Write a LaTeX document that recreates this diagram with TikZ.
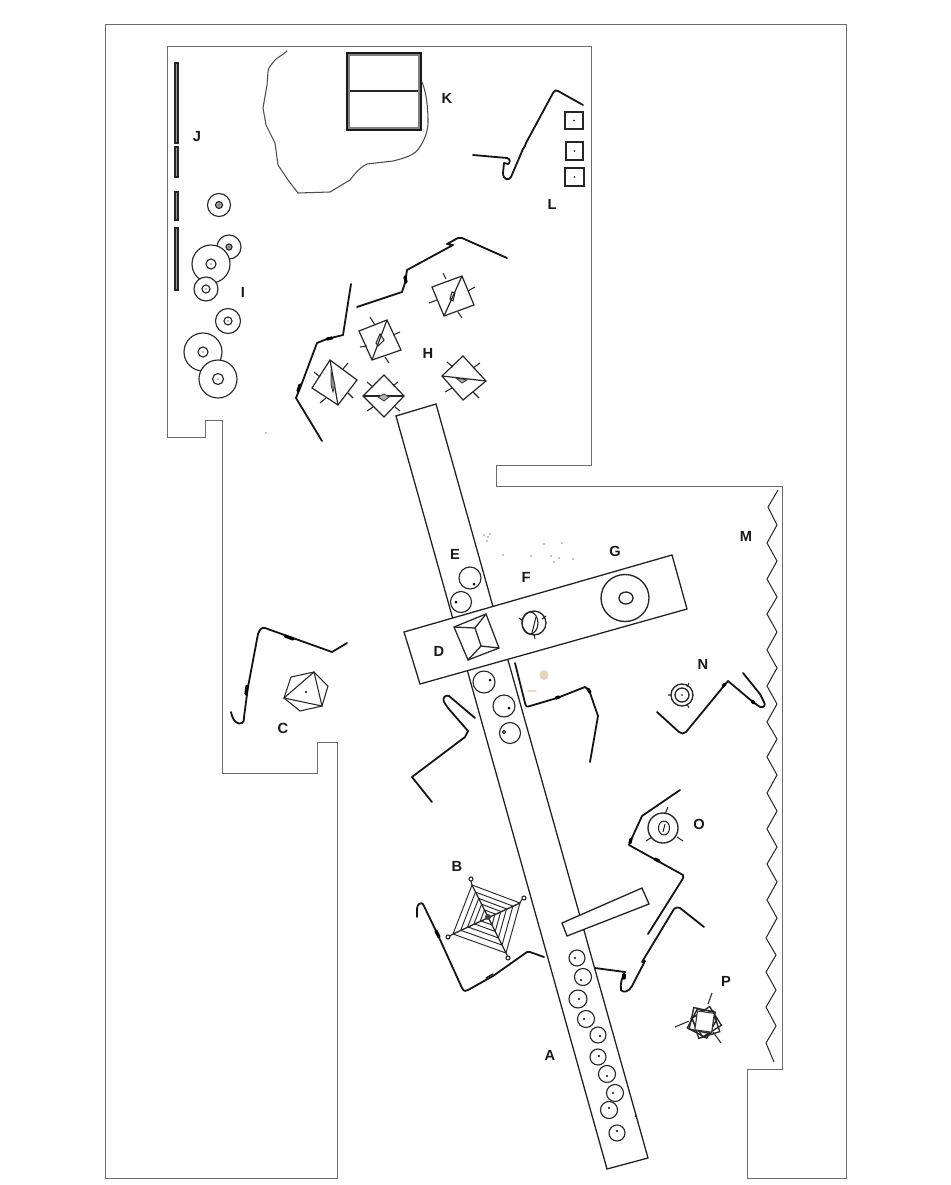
\documentclass[tikz,border=0pt]{standalone}
\usepackage{fontspec}
\setmainfont{Liberation Sans}
\usetikzlibrary{calc}
\tikzset{
  frameline/.style={draw=black!58,line width=0.65pt,line join=miter},
  barline/.style={draw=black!88,line width=0.95pt,fill=white},
  wall/.style={draw=black!92,line width=1.35pt,line join=round,line cap=round},
  wallmark/.style={draw=black,line width=2.4pt,line cap=round},
  thinline/.style={draw=black!85,line width=0.8pt},
  ring/.style={draw=black!85,line width=0.85pt,fill=white},
  kline/.style={draw=black!90,line width=1.6pt},
  letter/.style={font=\bfseries\fontsize{11}{12}\selectfont,text=black!90,inner sep=0pt},
  speck/.style={fill=black!45},
}
\begin{document}
\begin{tikzpicture}[x=0.75pt,y=-0.75pt]
\useasboundingbox (0,0) rectangle (950,1185);
% building outline
\draw[frameline] (105,24) -- (846,24) -- (846,1178) -- (747,1178) -- (747,1069) -- (782,1069) -- (782,486) -- (496,486) -- (496,465) -- (591,465) -- (591,46) -- (167,46) -- (167,437) -- (205,437) -- (205,420) -- (222,420) -- (222,773) -- (317,773) -- (317,742) -- (337,742) -- (337,1178) -- (105,1178) -- cycle;
% zigzag M
\draw[thinline,line width=0.75pt] (778,490) -- (768,507) -- (777,525) -- (767,543) -- (777,561) -- (767,579) -- (777,597) -- (767,614) -- (777,632) -- (767,650) -- (777,668) -- (767,686) -- (777,704) -- (767,722) -- (777,739) -- (767,757) -- (777,775) -- (767,793) -- (777,811) -- (767,829) -- (777,847) -- (767,864) -- (777,882) -- (767,900) -- (777,918) -- (766,938) -- (776,955) -- (766,972) -- (776,990) -- (766,1007) -- (776,1026) -- (766,1043) -- (774,1062);
% long bar and crossing bars
\draw[barline] (396,416) -- (436,404) -- (648,1158) -- (607,1169) -- cycle;
\draw[barline] (404,632) -- (672,555) -- (687,609) -- (420,684) -- cycle;
\draw[barline] (562,923) -- (642,888) -- (649,904) -- (567,936) -- cycle;
% K
\draw[thinline,line width=0.8pt,draw=black!70] (287,51) .. controls (282,56) and (276,58) .. (275,60) .. controls (271,65) and (268,68) .. (268,72) -- (267,85) -- (263,108) -- (266,125) -- (275,143) -- (278,165) -- (288,180) -- (298,193) -- (330,192) -- (350,180) .. controls (356,172) and (362,166) .. (367,164) -- (393,161) .. controls (405,158) and (415,155) .. (419,148) .. controls (425,140) and (428,130) .. (428,122) .. controls (428,105) and (426,92) .. (422,82);
\draw[kline] (347,53) -- (421,53) -- (421,130) -- (347,130) -- cycle;
\draw[thinline,line width=1pt] (347,91) -- (421,91);
\draw[thinline,draw=black!50] (349,54) -- (349,129) (419,54) -- (419,129) (348,55) -- (420,55) (348,128) -- (420,128);
% J bars
\foreach \ya/\yb in {63/143,147/177,192/220,228/290}
  \draw[draw=black!85,fill=black!40,line width=0.8pt] (175,\ya) rectangle (178,\yb);
% I circles
\foreach \cx/\cy/\ra/\rb/\ink in {219/205/11.5/3.5/35,229/247/12/3/35,211/264/19/5/0,206/289/12/4/0,228/321/12.5/4/0,203/352/19/5/0,218/379/19/5.5/0}{
  \draw[ring] (\cx,\cy) circle[radius=\ra];
  \draw[ring,fill=black!\ink] (\cx,\cy) circle[radius=\rb];
  \fill[black] (\cx,\cy) circle[radius=0.7];
}
% L
\draw[wall] (473,155) -- (507,158) .. controls (511,159) and (510,163) .. (508,164) -- (504,163) -- (503,173) .. controls (503,180) and (509,181) .. (511,177) -- (523,149) -- (525,146) -- (526,143) -- (553,93) .. controls (555,90) and (556,90) .. (558,91) -- (583,105);
\foreach \xa/\ya/\xb/\yb in {565/112/583/129,566/142/583/160,565/168/584/186}{
  \draw[thinline] (\xa,\ya) rectangle (\xb,\yb);
  \fill[black] ($(\xa,\ya)!0.5!(\xb,\yb)$) circle[radius=0.9];
}
% H walls
\draw[wall] (357,307) -- (402,292) -- (405,283) -- (407,270) -- (453,245) -- (447,244) -- (458,238) -- (462,238) -- (507,258);
\draw[wall] (351,284) -- (343,335) -- (327,339) -- (317,343) -- (302,383) -- (296,398) -- (322,441);
\draw[wallmark] (405,277) -- (406,282) (327,339) -- (332,338) (300,385) -- (298,391);
% H symbols
\draw[thinline,line width=0.9pt] (462,276) -- (474,305) -- (444,316) -- (432,287) -- cycle;
\draw[thinline,line width=0.9pt] (462,276) -- (444,316);
\draw[thinline] (452,292) -- (455,293) -- (453,301) -- (450,299) -- cycle;
\draw[thinline] (443,273) -- (446,279) (475,287) -- (468,291) (429,303) -- (437,300) (462,318) -- (458,312);
\draw[thinline,line width=0.9pt] (387,320) -- (401,350) -- (372,360) -- (359,331) -- cycle;
\draw[thinline,line width=0.9pt] (387,320) -- (372,360);
\draw[thinline] (380,334) -- (384,340) -- (378,346) -- (376,343) -- cycle;
\draw[thinline] (370,317) -- (375,325) (400,332) -- (393,335) (360,347) -- (367,346) (389,363) -- (385,357);
\draw[thinline,line width=0.9pt] (330,360) -- (357,380) -- (338,405) -- (312,388) -- cycle;
\draw[thinline,line width=0.9pt] (330,360) -- (338,405);
\draw[draw=black!80,fill=black!45,line width=0.6pt] (331,372) -- (335,385) -- (333,392) -- (331,385) -- cycle;
\draw[thinline] (348,363) -- (343,369) (314,372) -- (320,377) (353,398) -- (348,393) (320,403) -- (326,398);
\draw[thinline,line width=0.9pt] (384,375) -- (404,396) -- (384,417) -- (363,396) -- cycle;
\draw[thinline,line width=0.9pt] (363,396) -- (404,396);
\draw[draw=black!80,fill=black!30,line width=0.6pt] (378,397) -- (384,394) -- (389,397) -- (384,401) -- cycle;
\draw[thinline] (367,382) -- (373,387) (398,382) -- (393,386) (367,411) -- (373,407) (400,411) -- (395,407);
\draw[thinline,line width=0.9pt] (463,356) -- (486,381) -- (463,400) -- (442,376) -- cycle;
\draw[thinline,line width=0.9pt] (442,376) -- (486,381);
\draw[draw=black!80,fill=black!30,line width=0.6pt] (456,378) -- (462,383) -- (467,380) -- cycle;
\draw[thinline] (447,362) -- (453,367) (480,363) -- (473,368) (445,392) -- (452,388) (479,398) -- (473,392);
% C
\draw[wall] (231,712) .. controls (233,722) and (238,725) .. (242,723) .. controls (244,722) and (244,720) .. (244,717) -- (248,687) -- (258,634) .. controls (260,629) and (262,627) .. (265,628) -- (332,652) -- (347,643);
\draw[wallmark] (285,636) -- (293,639) (247,686) -- (246,694);
\draw[thinline] (314,672) -- (328,686) -- (322,706) -- (300,711) -- (284,698) -- (291,677) -- cycle;
\draw[thinline] (284,698) -- (314,672) -- (322,706) -- cycle;
\fill[black] (306,692) circle[radius=1.2];
% D
\draw[thinline,line width=0.95pt] (454,627) -- (486,614) -- (499,648) -- (468,660) -- cycle;
\draw[thinline,line width=0.95pt] (454,627) -- (475,628) -- (486,614) (475,628) -- (481,646) -- (499,648) (481,646) -- (468,660);
% E and lower circles
\foreach \cx/\cy/\ra/\dx/\dy in {470/578/11/474/584,461/602/10.5/456/602,484/682/11/490/680,504/706/11/509/708}{
  \draw[ring,fill opacity=0] (\cx,\cy) circle[radius=\ra];
  \fill[black] (\dx,\dy) circle[radius=1.5];
}
\draw[ring,fill opacity=0] (510,733) circle[radius=10.5];
\draw[thinline] (504,732) circle[radius=1.6];
% F
\draw[thinline,line width=1pt] (534,623) circle[radius=12];
\draw[thinline] (530,623) ellipse[x radius=8,y radius=11];
\draw[thinline] (536,617) -- (532,633) (519,618) -- (523,621) (546,616) -- (542,619) (535,639) -- (534,634);
% G
\draw[thinline,line width=1pt] (625,598) ellipse[x radius=24,y radius=23.5];
\draw[thinline,line width=1pt] (626,598) ellipse[x radius=7,y radius=6];
% F wall
\draw[wall] (515,663) -- (525,703) .. controls (526,707) and (527,707) .. (530,706) -- (557,698) -- (585,687) -- (589,690) -- (598,716) -- (590,762);
\draw[wallmark] (556,698) -- (559,697) (588,689) -- (590,692);
% wall beside D
\draw[wall] (475,718) -- (449,696) .. controls (445,694) and (442,699) .. (444,702) -- (448,708) -- (468,731) -- (465,737) -- (412,777) -- (432,802);
% N
\draw[wall] (657,712) -- (679,732) .. controls (681,734) and (684,734) .. (686,732) -- (723,687) -- (728,681) -- (753,702) -- (760,707) .. controls (764,708) and (766,705) .. (764,702) -- (760,694) -- (743,673);
\draw[wallmark] (723,686) -- (725,684) (752,701) -- (754,703);
\draw[thinline,line width=1pt] (682,695) circle[radius=11];
\draw[thinline,line width=1pt] (682,695) circle[radius=7];
\fill[black] (682,695) circle[radius=0.8];
\draw[thinline] (689,683) -- (687,687) (668,695) -- (671,695) (689,708) -- (687,704);
% O
\draw[wall] (680,790) -- (642,816) -- (631,840) -- (629,845) -- (683,875) .. controls (684,877) and (683,878) .. (682,880) -- (648,934);
\draw[wallmark] (631,839) -- (630,843) (655,859) -- (659,861);
\draw[wall] (704,927) -- (680,908) .. controls (678,907) and (676,907) .. (674,909) -- (642,962) -- (645,961) -- (632,986) .. controls (629,992) and (623,993) .. (621,990) .. controls (620,983) and (622,978) .. (625,972) -- (595,968);
\draw[wallmark] (624,975) -- (624,978);
\draw[thinline,line width=1pt] (663,828) circle[radius=15];
\draw[thinline] (664,828) ellipse[x radius=5.5,y radius=7];
\draw[thinline] (665,824) -- (663,832) (668,807) -- (665,814) (646,841) -- (652,837) (683,841) -- (677,837);
% B spider
\coordinate (bc) at (488,917);
\coordinate (b1) at (472,885);
\coordinate (b2) at (520,903);
\coordinate (b3) at (506,953);
\coordinate (b4) at (453,934);
\foreach \f in {0,0.22,0.42,0.6,0.78}
  \draw[thinline,line width=0.7pt] ($(b1)!\f!(bc)$) -- ($(b2)!\f!(bc)$) -- ($(b3)!\f!(bc)$) -- ($(b4)!\f!(bc)$) -- cycle;
\draw[thinline,line width=1pt] (b1) -- (b3) (b2) -- (b4);
\fill[black!75] (bc) circle[radius=3];
\draw[thinline] (471,879) circle[radius=2] (524,898) circle[radius=2] (508,958) circle[radius=2] (448,937) circle[radius=2];
\draw[thinline] (471,881) -- (b1) (522,899) -- (b2) (507.5,956) -- (b3) (450,936) -- (b4);
\draw[wall] (417,917) -- (417,909) .. controls (417,904) and (421,902) .. (423,904) -- (437,933) -- (462,988) .. controls (464,992) and (466,991) .. (468,990) -- (493,976) -- (527,952) -- (530,952) -- (544,957);
\draw[wallmark] (436,931) -- (439,937);
\draw[wall,line width=1pt] (486,978) -- (493,974);
% A circles
\foreach \cx/\cy/\ra/\dx/\dy in {577/958/8/575/958,583/977/8.5/581/980,578/999/9/579/999,586/1019/8.5/584/1019,598/1035/8/600/1036,598/1057/8/599/1056,607/1074/8.5/607/1076,615/1093/8.5/613/1093,609/1110/8.5/609/1108,617/1133/8/617/1131}{
  \draw[ring,fill opacity=0] (\cx,\cy) circle[radius=\ra];
  \fill[black] (\dx,\dy) circle[radius=1.2];
}
\fill[black] (635.5,1116) circle[radius=1];
% P
\foreach \a/\ox/\oy in {-28/-1/2,18/1/3,-12/-2/-1,32/2/1}
  \draw[thinline,line width=1pt,rotate around={\a:(704,1022)}] (693+\ox,1011+\oy) rectangle (715+\ox,1033+\oy);
\draw[draw=black!80,fill=white,line width=0.8pt,rotate around={-8:(704,1022)}] (696,1012) rectangle (713,1031);
\draw[thinline] (712,993) -- (708,1004) (675,1027) -- (689,1021) (721,1043) -- (713,1032);
% specks and stain
\foreach \sx/\sy in {484/535,488/537,487/541,490/534,544/544,562/543,503/555,551/556,554/562,559/558,573/559,531/556}
  \fill[speck] (\sx,\sy) circle[radius=0.8];
\fill[fill=brown!35] (544,675) ellipse[x radius=4.5,y radius=5];
\fill[fill=brown!30] (532,691) ellipse[x radius=5,y radius=1.2];
\fill[speck] (266,433) circle[radius=0.8];
% labels
\node[letter] (la) at (550,1055) {A};
\node[letter] (lb) at (457,866) {B};
\node[letter] (lc) at (283,728) {C};
\node[letter] (ld) at (439,651) {D};
\node[letter] (le) at (455,554) {E};
\node[letter] (lf) at (526,577) {F};
\node[letter] (lg) at (615,551) {G};
\node[letter] (lh) at (428,353) {H};
\node[letter] (li) at (243,292) {I};
\node[letter] (lj) at (197,137) {J};
\node[letter] (lk) at (447,98) {K};
\node[letter] (ll) at (552,204) {L};
\node[letter] (lm) at (746,536) {M};
\node[letter] (ln) at (703,664) {N};
\node[letter] (lo) at (699,824) {O};
\node[letter] (lp) at (726,981) {P};
\end{tikzpicture}
\end{document}
